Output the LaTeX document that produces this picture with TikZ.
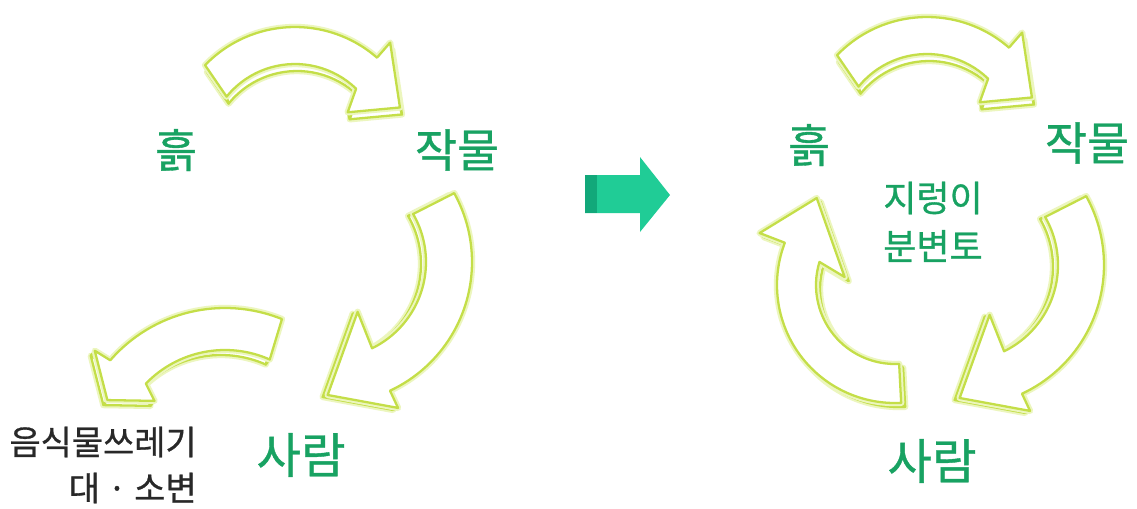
\documentclass[tikz,border=0pt]{standalone}
\usepackage{fontspec}
\setmainfont{Noto Sans CJK KR}[FakeBold=0.8]
\definecolor{agreen}{RGB}{196,222,72}
\definecolor{aglow}{RGB}{236,246,190}
\definecolor{tgreen}{RGB}{24,162,98}
\definecolor{tgray}{RGB}{40,40,40}
\definecolor{teala}{RGB}{32,204,150}
\definecolor{tealb}{RGB}{18,168,122}
\tikzset{
  arw/.style={fill=white, draw=agreen, line width=1.3pt, line join=round,
    preaction={draw=aglow, line width=3.6pt, line join=round}},
  arwedge/.style={draw=agreen, line width=1.3pt, line cap=round},
  lbl/.style={text=tgreen, inner sep=0pt, font=\fontsize{26}{30}\selectfont},
  lblbig/.style={text=tgreen, inner sep=0pt, font=\fontsize{27.5}{30}\selectfont},
  lblmid/.style={text=tgreen, inner sep=0pt, font=\fontsize{20.5}{22}\selectfont},
  gtxt/.style={text=tgray, inner sep=0pt, font=\fontsize{19.3}{21}\selectfont, anchor=east}
}
\def\edx{0}\def\edy{0}
% #1 R, #2 r, #3 tail angle (outer), #4 outer end angle, #5 inner end angle,
% #6 outer barb, #7 tip, #8 inner barb, #9 tail angle (inner)
\newcommand\carrow[9]{%
  \begin{scope}[shift={(\edx,\edy)}]
    \path[arw] (#3:#1) arc[start angle=#3,end angle=#4,radius=#1] -- #6 -- #7 -- #8 -- (#5:#2) arc[start angle=#5,end angle=#9,radius=#2] -- cycle;
  \end{scope}
  \coordinate (q1) at (#3:#1);
  \coordinate (q2) at (#4:#1);
  \coordinate (q3) at #6;
  \coordinate (q4) at #7;
  \coordinate (q5) at #8;
  \coordinate (q6) at (#5:#2);
  \coordinate (q7) at (#9:#2);
  \foreach \p in {q1,q2,q3,q4,q5,q6,q7} \draw[arwedge] (\p) -- ++(\edx,\edy);
  \path[arw] (#3:#1) arc[start angle=#3,end angle=#4,radius=#1] -- #6 -- #7 -- #8 -- (#5:#2) arc[start angle=#5,end angle=#9,radius=#2] -- cycle;
}
\begin{document}
\begin{tikzpicture}[x=0.02cm,y=-0.02cm]
\useasboundingbox[fill=white] (0,0) rectangle (1137,508);

% ---------- left cycle ----------
\def\edx{2}\def\edy{7}
\begin{scope}[shift={(295,152)}]
  \carrow{125}{88}{-136}{-49}{-46}{(-49:145)}{(-23:114)}{(-37:66)}{-141}
\end{scope}
\def\edx{-5}\def\edy{2}
\begin{scope}[shift={(330,262)}]
  \carrow{142}{96}{-29}{65}{64}{(65:161)}{(91:133)}{(61:57)}{-30}
\end{scope}
\def\edx{-4}\def\edy{5}
\begin{scope}[shift={(225,460)}]
  \carrow{152}{110}{-68}{-139}{-136}{(-140:170)}{(-153:132)}{(-140:92)}{-66}
\end{scope}

\node[lbl] (soilL) at (176,150) {흙};
\node[lbl] (cropL) at (457,150) {작물};
\node[lblbig] (peopleL) at (301,455) {사람};
\node[gtxt] (wasteL) at (197,442) {음식물쓰레기};
\node[gtxt] (excL) at (197,488) {대 · 소변};

% ---------- middle arrow ----------
\fill[teala] (585,175) -- (640,175) -- (640,157) -- (670,195) -- (640,232) -- (640,213) -- (585,213) -- cycle;
\fill[tealb] (585,175) rectangle (597,213);

% ---------- right cycle ----------
\def\edx{2}\def\edy{7}
\begin{scope}[shift={(927,142)}]
  \carrow{125}{88}{-136}{-49}{-46}{(-49:145)}{(-23:114)}{(-37:66)}{-141}
\end{scope}
\def\edx{-5}\def\edy{2}
\begin{scope}[shift={(962,265)}]
  \carrow{142}{96}{-29}{65}{64}{(65:161)}{(91:133)}{(61:57)}{-30}
\end{scope}
\def\edx{4}\def\edy{4}
\begin{scope}[shift={(895,285)}]
  \carrow{118}{79}{87}{201}{197}{(201:145)}{(228:117)}{(189:51)}{87}
\end{scope}

\node[lbl] (soilR) at (809,145) {흙};
\node[lbl] (cropR) at (1087,143) {작물};
\node[lblmid] (wormR) at (933,198) {지렁이};
\node[lblmid] (castR) at (933,246) {분변토};
\node[lblbig] (peopleR) at (932,461) {사람};
\end{tikzpicture}
\end{document}
